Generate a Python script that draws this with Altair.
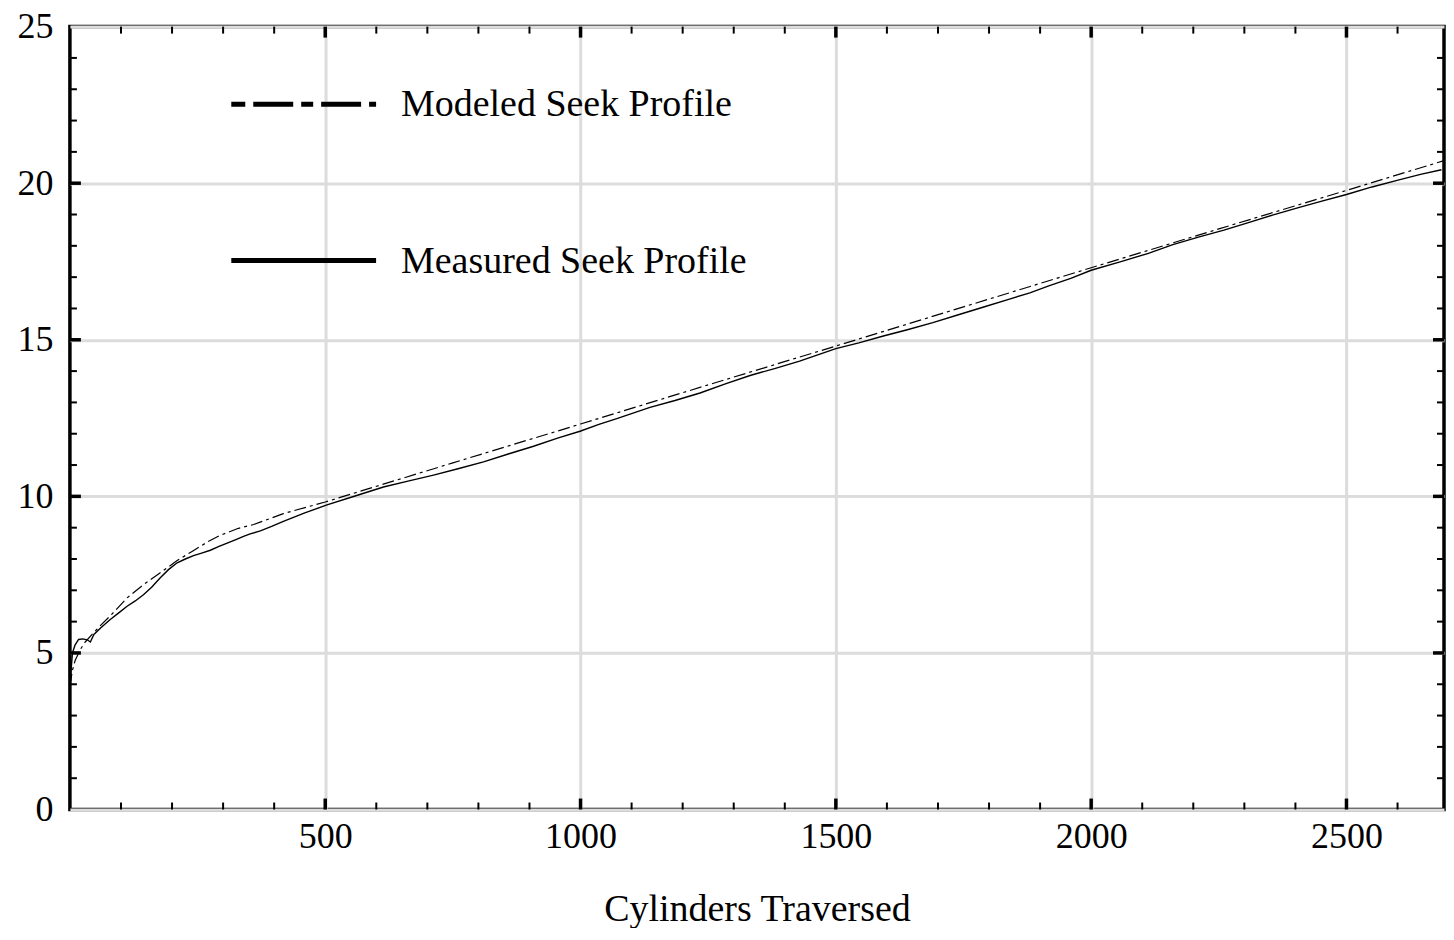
import altair as alt
import pandas as pd

# ---- data ----
measured_cyl = [0, 2, 5, 10, 17, 25, 34, 40, 47, 60, 79, 95, 112, 128, 144, 160, 177, 193, 210,
                226, 242, 258, 275, 292, 308, 325, 340, 353, 373, 395, 418, 460, 502, 560, 614,
                660, 712, 760, 810, 860, 908, 955, 999, 1036, 1071, 1136, 1185, 1234, 1285, 1332,
                1380, 1429, 1500, 1545, 1593, 1640, 1690, 1740, 1788, 1840, 1880, 1917, 1960,
                2000, 2055, 2112, 2160, 2210, 2260, 2308, 2355, 2406, 2450, 2500, 2550, 2601,
                2645, 2686]
measured_ms = [3.8, 4.4, 5.0, 5.25, 5.43, 5.45, 5.42, 5.35, 5.59, 5.8, 6.07, 6.27, 6.49, 6.66,
               6.86, 7.1, 7.40, 7.66, 7.88, 8.0, 8.11, 8.19, 8.28, 8.4, 8.51, 8.62, 8.72, 8.8,
               8.9, 9.04, 9.2, 9.47, 9.72, 10.02, 10.3, 10.48, 10.68, 10.88, 11.1, 11.36, 11.6,
               11.86, 12.08, 12.3, 12.48, 12.84, 13.06, 13.3, 13.6, 13.86, 14.08, 14.32, 14.72,
               14.9, 15.12, 15.32, 15.55, 15.8, 16.04, 16.3, 16.5, 16.72, 16.96, 17.22, 17.48,
               17.76, 18.04, 18.28, 18.5, 18.74, 18.98, 19.22, 19.42, 19.64, 19.88, 20.1, 20.28,
               20.43]

modeled_cyl = [0, 5, 10, 20, 30, 45, 60, 80, 112, 144, 177, 210, 240, 270, 295, 330, 360, 418,
               500, 750, 1000, 1250, 1500, 1750, 2000, 2250, 2500, 2691]
modeled_ms = [3.95, 4.45, 4.75, 5.1, 5.35, 5.62, 5.88, 6.2, 6.76, 7.18, 7.56, 7.95, 8.25, 8.55,
              8.76, 8.98, 9.1, 9.45, 9.82, 11.07, 12.31, 13.56, 14.8, 16.05, 17.3, 18.54, 19.77,
              20.72]

x_major = [500, 1000, 1500, 2000, 2500]
x_minor = [100, 200, 300, 400, 600, 700, 800, 900, 1100, 1200, 1300, 1400, 1600, 1700, 1800,
           1900, 2100, 2200, 2300, 2400, 2600]
y_labels = [0, 5, 10, 15, 20, 25]
y_major = [5, 10, 15, 20]
y_minor = [1, 2, 3, 4, 6, 7, 8, 9, 11, 12, 13, 14, 16, 17, 18, 19, 21, 22, 23, 24]
legend_labels = ["Modeled Seek Profile", "Measured Seek Profile"]
x_title = "Cylinders Traversed"

W, H = 1376, 784
FONT = "Liberation Serif"
grid_color = "#dcdcdc"

x_scale = alt.Scale(domain=[0, 2691], nice=False, zero=False)
y_scale = alt.Scale(domain=[0, 25], nice=False, zero=False)

x_axis = alt.Axis(values=x_major, format="d", grid=True, gridColor=grid_color, gridWidth=3,
                  domain=False, ticks=False, labelFont=FONT, labelFontSize=36,
                  labelColor="black", labelPadding=10, labelFlush=False,
                  title=x_title, titleFont=FONT, titleFontSize=38,
                  titleFontWeight="normal", titleColor="black", titlePadding=36)
y_axis = alt.Axis(values=y_labels, format="d", grid=True, gridColor=grid_color, gridWidth=3,
                  domain=False, ticks=False, labelFont=FONT, labelFontSize=36,
                  labelColor="black", labelPadding=17, labelFlush=False, title="")

measured = pd.DataFrame({"cyl": measured_cyl, "ms": measured_ms})
modeled = pd.DataFrame({"cyl": modeled_cyl, "ms": modeled_ms})


def X(field):
    return alt.X(field, scale=x_scale, axis=x_axis, title=x_title)


def Y(field):
    return alt.Y(field, scale=y_scale, axis=y_axis, title="")


base_line = alt.Chart(measured).mark_line(color="black", strokeWidth=1.4).encode(
    x=X("cyl:Q"), y=Y("ms:Q"))

model_line = alt.Chart(modeled).mark_line(color="black", strokeWidth=1.2,
                                          strokeDash=[12, 4, 3, 4]).encode(
    x=X("cyl:Q"), y=Y("ms:Q"))


def xticks(vals, length, width):
    df = pd.DataFrame({"v": vals})
    bottom = alt.Chart(df).mark_rule(color="black", strokeWidth=width).encode(
        x=X("v:Q"), y=alt.value(H), y2=alt.value(H - length))
    top = alt.Chart(df).mark_rule(color="black", strokeWidth=width).encode(
        x=X("v:Q"), y=alt.value(0), y2=alt.value(length))
    return [bottom, top]


def yticks(vals, length, width):
    df = pd.DataFrame({"v": vals})
    left = alt.Chart(df).mark_rule(color="black", strokeWidth=width).encode(
        y=Y("v:Q"), x=alt.value(0), x2=alt.value(length))
    right = alt.Chart(df).mark_rule(color="black", strokeWidth=width).encode(
        y=Y("v:Q"), x=alt.value(W), x2=alt.value(W - length))
    return [left, right]


ticks = (xticks(x_minor, 7, 2) + xticks(x_major, 11, 3.5)
         + yticks(y_minor, 7, 2) + yticks(y_major, 11, 3.5))

one = pd.DataFrame({"a": [0]})
leg_dash = alt.Chart(one).mark_rule(color="black", strokeWidth=5,
                                    strokeDash=[14, 8, 40, 8, 12, 8, 40, 8, 7, 60]).encode(
    x=alt.value(161.6), x2=alt.value(306.6), y=alt.value(77.8))
leg_solid = alt.Chart(one).mark_rule(color="black", strokeWidth=5).encode(
    x=alt.value(161.6), x2=alt.value(306.6), y=alt.value(234.3))
leg_text1 = alt.Chart(pd.DataFrame({"t": [legend_labels[0]]})).mark_text(
    align="left", baseline="middle", font=FONT, fontSize=38, color="black").encode(
    x=alt.value(331.6), y=alt.value(79), text="t:N")
leg_text2 = alt.Chart(pd.DataFrame({"t": [legend_labels[1]]})).mark_text(
    align="left", baseline="middle", font=FONT, fontSize=38, color="black").encode(
    x=alt.value(331.6), y=alt.value(236), text="t:N")

chart = alt.layer(base_line, model_line, *ticks, leg_dash, leg_solid, leg_text1, leg_text2).properties(
    width=W, height=H,
    autosize=alt.AutoSizeParams(type="none"),
    padding={"left": 62, "top": 18, "right": 2, "bottom": 118},
    background="white",
).configure_view(stroke="black", strokeWidth=3.5)

chart.save("out.html", embed_options={"renderer": "svg", "actions": False})
